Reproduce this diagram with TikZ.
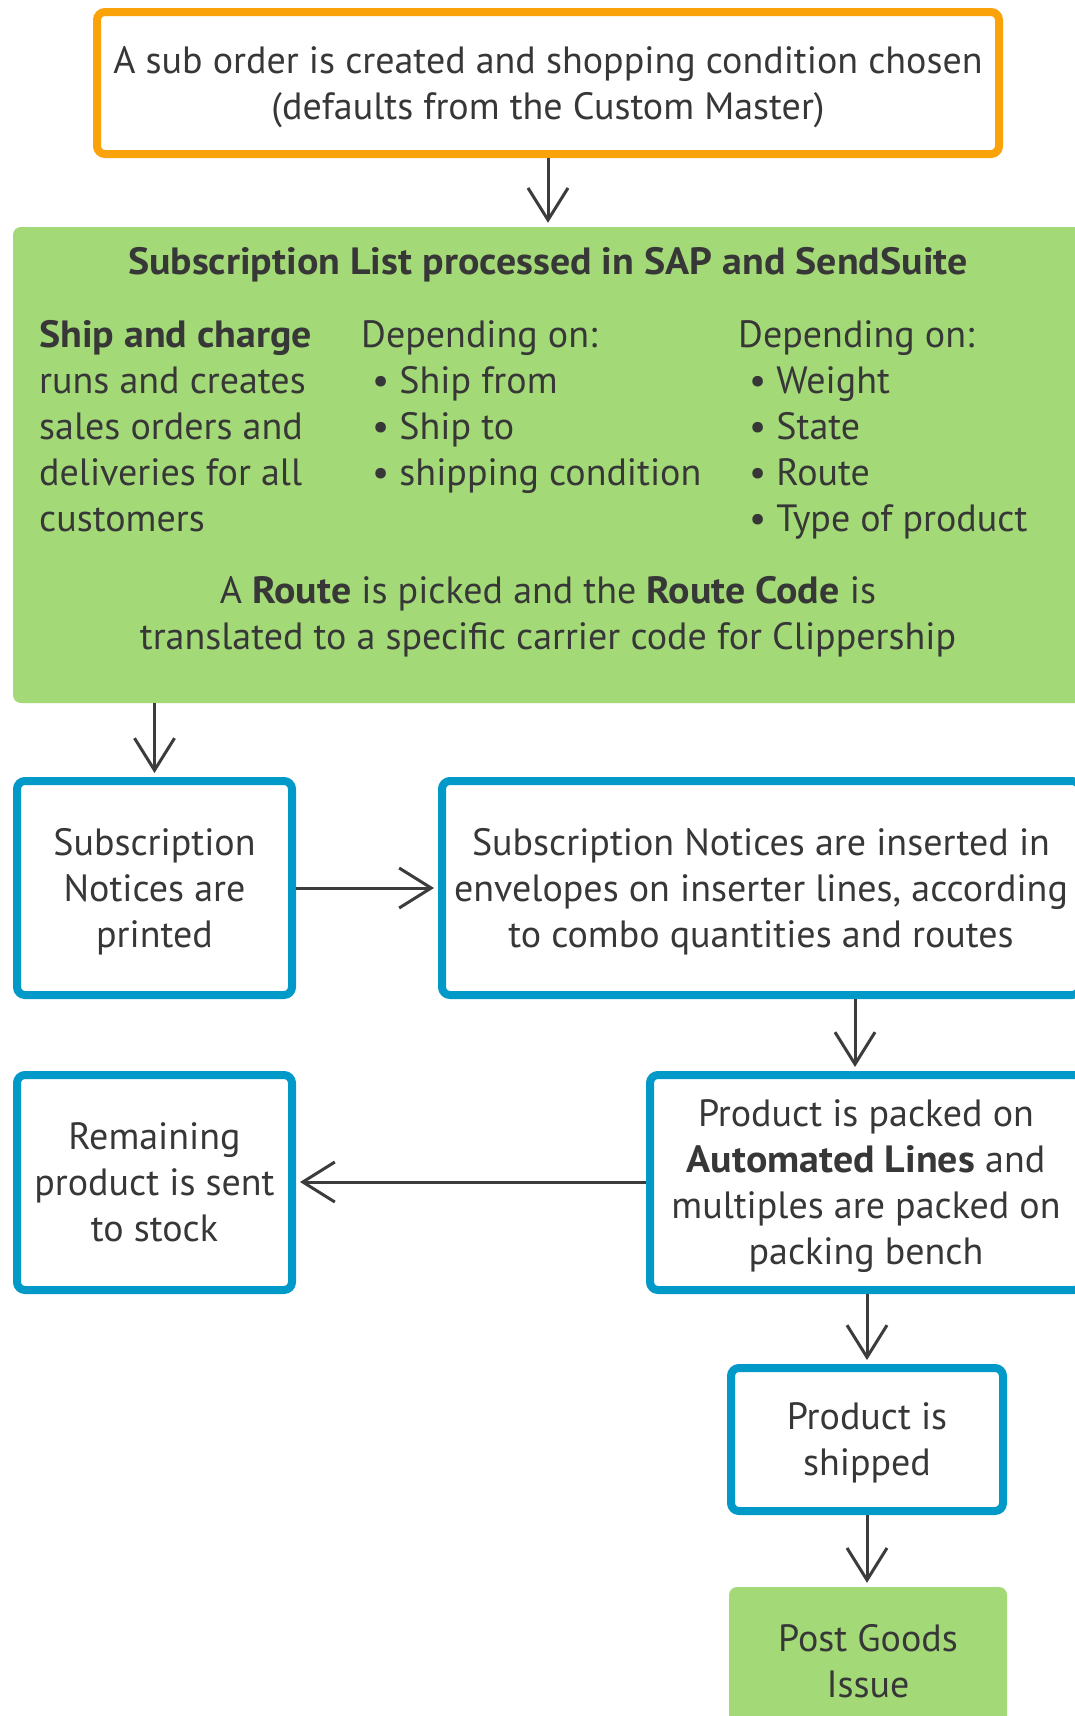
\documentclass[tikz,border=0pt]{standalone}
\usepackage{fontspec}
\setmainfont{PT Sans}[BoldFeatures={FakeStretch=1.05}]
\usetikzlibrary{arrows.meta}
\definecolor{orangeC}{RGB}{249,162,10}
\definecolor{greenC}{RGB}{163,217,119}
\definecolor{blueC}{RGB}{0,153,200}
\definecolor{txtC}{RGB}{55,55,55}
\definecolor{arrC}{RGB}{60,60,60}
\begin{document}
\begin{tikzpicture}[x=1pt,y=-1pt,
  every node/.style={font=\fontsize{38}{46}\selectfont, text=txtC},
  bluebox/.style={draw=blueC, line width=8pt, rounded corners=8pt, fill=white, align=center, inner sep=0pt, text depth=0pt},
  orangebox/.style={draw=orangeC, line width=8pt, rounded corners=8pt, fill=white, align=center, inner sep=0pt, text depth=0pt},
  greenbox/.style={fill=greenC, rounded corners=8pt, align=center, inner sep=0pt, text depth=0pt},
  gtext/.style={align=left, inner sep=0pt, text depth=0pt},
  arr/.style={draw=arrC, line width=3pt, -{Straight Barb[length=32pt,width=40pt]}, shorten >=4pt}
]
\useasboundingbox (0,0) rectangle (1075,1716);
\clip (0,0) rectangle (1075,1716);
\fill[white] (0,0) rectangle (1075,1716);

% top box
\node[orangebox, minimum width=902pt, minimum height=142pt] (top) at (548,83)
  {A sub order is created and shopping condition chosen\\(defaults from the Custom Master)};

% big green box
\node[greenbox, minimum width=1070pt, minimum height=476pt] (list) at (548,465) {};
\node[inner sep=0pt, text depth=0pt] (title) at (548,261) {\textbf{Subscription List processed in SAP and SendSuite}};
\node[gtext, anchor=west] (col1) at (39,426)
  {\textbf{Ship and charge}\\runs and creates\\sales orders and\\deliveries for all\\customers};
\node[gtext, anchor=west] (col2) at (361,403)
  {Depending on:\\\hspace*{11pt}\textbullet\ Ship from\\\hspace*{11pt}\textbullet\ Ship to\\\hspace*{11pt}\textbullet\ shipping condition};
\node[gtext, anchor=west] (col3) at (738,426)
  {Depending on:\\\hspace*{11pt}\textbullet\ Weight\\\hspace*{11pt}\textbullet\ State\\\hspace*{11pt}\textbullet\ Route\\\hspace*{11pt}\textbullet\ Type of product};
\node[align=center, inner sep=0pt, text depth=0pt] (route) at (548,613)
  {A \textbf{Route} is picked and the \textbf{Route Code} is\\translated to a specific carrier code for Clippership};

% blue boxes
\node[bluebox, minimum width=275pt, minimum height=214pt] (printed) at (154.5,888)
  {Subscription\\Notices are\\printed};
\node[bluebox, minimum width=638pt, minimum height=214pt] (insert) at (761,888)
  {Subscription Notices are inserted in\\envelopes on inserter lines, according\\to combo quantities and routes};
\node[bluebox, minimum width=432pt, minimum height=215pt] (packed) at (866,1182.5)
  {Product is packed on\\\textbf{Automated Lines} and\\multiples are packed on\\packing bench};
\node[bluebox, minimum width=275pt, minimum height=215pt] (stock) at (154.5,1182.5)
  {Remaining\\product is sent\\to stock};
\node[bluebox, minimum width=272pt, minimum height=143pt] (shipped) at (867,1439.5)
  {Product is\\shipped};
\node[greenbox, minimum width=278pt, minimum height=148pt] (pgi) at (868,1661)
  {Post Goods\\Issue};

% connectors
\draw[arr] (top.south) -- (list.north -| top.south);
\draw[arr] (list.south -| printed.north) -- (printed.north);
\draw[arr] (printed.east) -- (insert.west |- printed.east);
\draw[arr] (insert.south -| 855,0) -- (packed.north -| 855,0);
\draw[arr] (packed.west |- 0,1182) -- (stock.east |- 0,1182);
\draw[arr] (packed.south -| shipped.north) -- (shipped.north);
\draw[arr] (shipped.south) -- (pgi.north -| shipped.south);
\end{tikzpicture}
\end{document}
